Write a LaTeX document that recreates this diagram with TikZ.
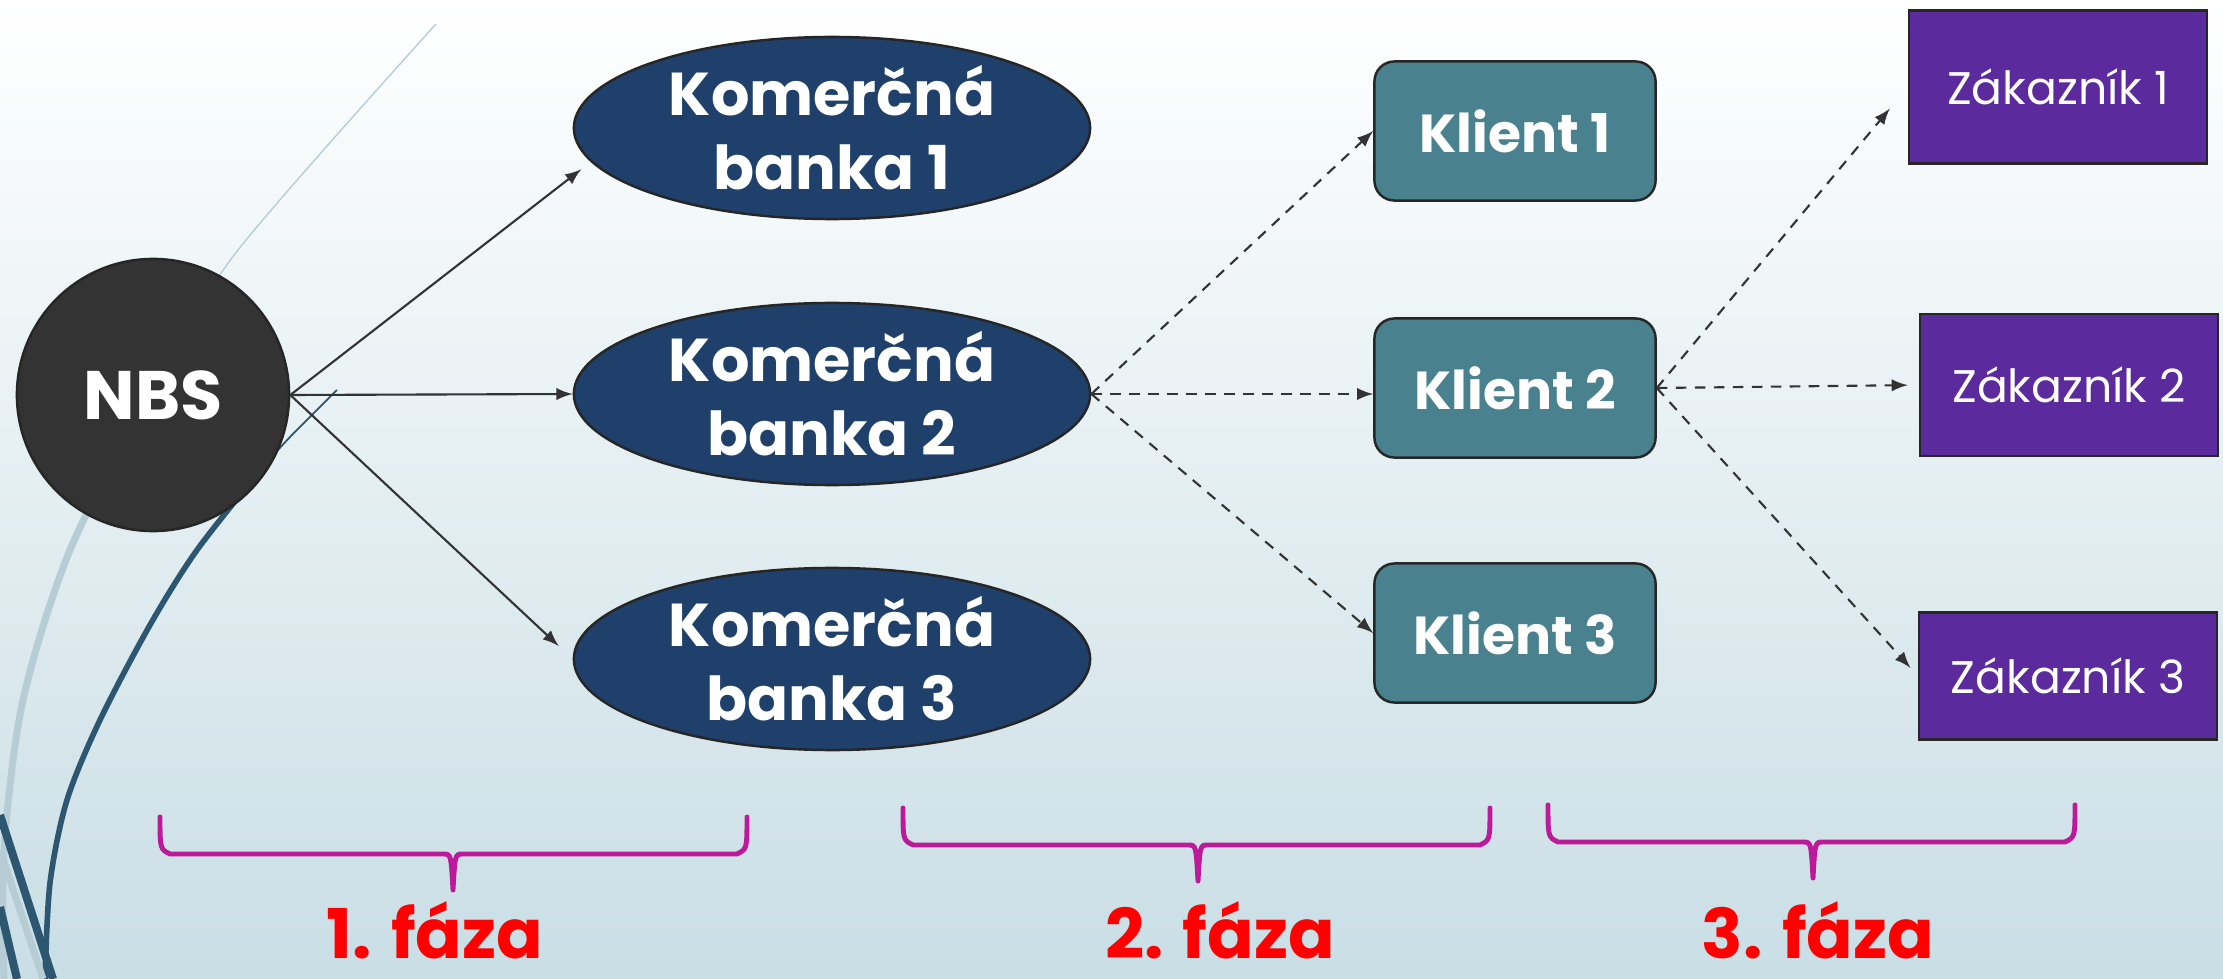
\documentclass[tikz,border=0pt]{standalone}
\usepackage{fontspec}
\setmainfont{Poppins}
\usetikzlibrary{positioning,calc,arrows,shapes.geometric}

\definecolor{pozadie}{HTML}{C9DEE5}
\definecolor{okraj}{HTML}{262626}
\definecolor{nbsseda}{HTML}{333333}
\definecolor{bankamodra}{HTML}{1E406A}
\definecolor{klientmodra}{HTML}{4A818F}
\definecolor{fialova}{HTML}{5B2A9C}
\definecolor{sipkova}{HTML}{333333}
\definecolor{zatvorkova}{HTML}{BC1A98}
\definecolor{vlnatmava}{HTML}{2D5670}
\definecolor{vlnasvetla}{HTML}{B7CDD5}

\begin{document}
\begin{tikzpicture}[x=0.01cm,y=-0.01cm,
    banka/.style={ellipse,draw=okraj,line width=0.7pt,fill=bankamodra,text=white,
      minimum width=5.16cm,minimum height=1.82cm,inner xsep=0pt,inner ysep=-0.4cm,
      align=center,font=\bfseries\fontsize{17.2}{21}\selectfont},
    klient/.style={rectangle,rounded corners=0.2cm,draw=okraj,line width=0.7pt,fill=klientmodra,
      text=white,minimum width=2.81cm,minimum height=1.39cm,font=\bfseries\fontsize{15.2}{18}\selectfont},
    zakaznik/.style={rectangle,draw=okraj,line width=0.6pt,fill=fialova,text=white,
      minimum width=2.98cm,font=\fontsize{13}{16}\selectfont},
    sipka/.style={->,>=latex,draw=sipkova,line width=0.6pt},
    ciarkovana/.style={sipka,dash pattern=on 3pt off 2.4pt},
    zatvorka/.style={draw=zatvorkova,line width=1.4pt,line cap=round,line join=round},
    faza/.style={text=red,font=\bfseries\fontsize{19.5}{24}\selectfont,anchor=base,inner sep=0pt}]

    % pozadie
    \fill[top color=white,bottom color=pozadie] (0,0) rectangle (2223,979);
    \useasboundingbox (0,0) rectangle (2223,979);

    % ozdobne vlny vlavo
    \draw[vlnasvetla,line width=0.4pt] plot[smooth] coordinates {(436,24) (238,250) (150,390)};
    \draw[vlnasvetla,line width=2pt] plot[smooth] coordinates {(150,390) (70,550) (23,700) (4,850) (4,979)};
    \draw[vlnatmava,line width=0.5pt] plot[smooth] coordinates {(337,390) (290,437) (262,468)};
    \draw[vlnatmava,line width=1.6pt] plot[smooth] coordinates {(262,468) (197,550) (150,625) (100,720) (67,800) (50,883) (45,979)};
    \draw[vlnatmava,line width=2.3pt] (0,815) -- (53,979);
    \draw[vlnasvetla,line width=2pt] (0,850) -- (43,979);
    \draw[vlnatmava,line width=2.3pt] (0,907) -- (17,979);

    % uzly
    \node[circle,draw=okraj,line width=0.7pt,fill=nbsseda,text=white,minimum size=2.72cm,
      font=\bfseries\fontsize{19.5}{23}\selectfont] (nbs) at (153,395) {NBS};

    \node[banka] (b1) at (832,128) {Komerčná\\banka 1};
    \node[banka] (b2) at (832,394) {Komerčná\\banka 2};
    \node[banka] (b3) at (832,659) {Komerčná\\banka 3};

    \node[klient] (k1) at (1515,131) {Klient 1};
    \node[klient] (k2) at (1515,388) {Klient 2};
    \node[klient] (k3) at (1515,633) {Klient 3};

    \node[zakaznik,minimum height=1.53cm] (z1) at (2058,87) {Zákazník 1};
    \node[zakaznik,minimum height=1.42cm] (z2) at (2069,385) {Zákazník 2};
    \node[zakaznik,minimum height=1.27cm] (z3) at (2068,676) {Zákazník 3};

    % sipky
    \draw[sipka,shorten >=0.12cm] (nbs.east) -- (b1.188);
    \draw[sipka] (nbs.east) -- (b2.west);
    \draw[sipka,shorten >=0.19cm] (nbs.east) -- (b3.west);

    \draw[ciarkovana] (b2.east) -- (k1.west);
    \draw[ciarkovana] (b2.east) -- (b2.east -| k2.west);
    \draw[ciarkovana] (b2.east) -- (k3.west);

    \draw[ciarkovana,shorten >=0.28cm] (k2.east) -- (z1.west);
    \draw[ciarkovana,shorten >=0.11cm] (k2.east) -- (z2.west);
    \draw[ciarkovana,shorten >=0.11cm] (k2.east) -- (z3.west);

    % zatvorky
    \foreach \xa/\xm/\xb/\yt in {160/453/747/817, 903/1198/1490/808, 1548/1813/2075/805}{
        \draw[zatvorka] (\xa,\yt) .. controls (\xa,\yt+32) .. (\xa+10,\yt+37) -- (\xm-10,\yt+37)
          .. controls (\xm-2,\yt+37) .. (\xm,\yt+73)
          .. controls (\xm+2,\yt+37) .. (\xm+10,\yt+37) -- (\xb-10,\yt+37)
          .. controls (\xb,\yt+32) .. (\xb,\yt);
    }

    \node[faza] (f1) at (435,958) {1. fáza};
    \node[faza] (f2) at (1220,958) {2. fáza};
    \node[faza] (f3) at (1818,958) {3. fáza};
\end{tikzpicture}
\end{document}
